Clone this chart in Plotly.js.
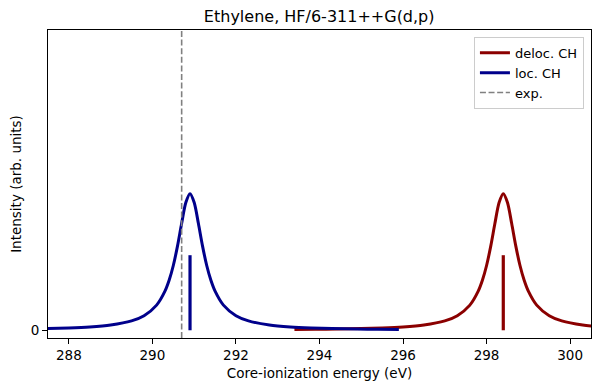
<!DOCTYPE html>
<html>
<head>
<meta charset="utf-8">
<script src="https://cdn.plot.ly/plotly-3.0.1.min.js"></script>
<style>html,body{margin:0;padding:0;background:#fff;}#chart{width:600px;height:391px;}</style>
</head>
<body>
<div id="chart"></div>
<script>
// Broadened spectrum (energy in eV, intensity in arb. units; stick height = 1)
const locX = [285.9, 287.0, 287.5, 288.0, 288.5, 289.0, 289.5, 289.8, 290.1, 290.3, 290.4, 290.5, 290.6, 290.7, 290.8, 290.9, 291.0, 291.1, 291.2, 291.3, 291.4, 291.5, 291.7, 292.0, 292.3, 292.8, 293.3, 293.8, 294.3, 294.9, 295.4, 295.9];
const locY = [0.01045, 0.01712, 0.02245, 0.0307, 0.0445, 0.0700, 0.1249, 0.194, 0.335, 0.521, 0.666, 0.863, 1.121, 1.425, 1.702, 1.82, 1.702, 1.425, 1.121, 0.863, 0.666, 0.521, 0.335, 0.194, 0.1249, 0.0700, 0.0445, 0.0307, 0.02245, 0.01628, 0.01289, 0.01045];

const delocX = [293.4, 293.9, 294.4, 295.0, 295.5, 296.0, 296.5, 297.0, 297.3, 297.6, 297.8, 297.9, 298.0, 298.1, 298.2, 298.3, 298.4, 298.5, 298.6, 298.7, 298.8, 298.9, 299.0, 299.2, 299.5, 299.8, 300.3, 300.8];
const delocY = [0.01045, 0.01289, 0.01628, 0.02245, 0.0307, 0.0445, 0.0700, 0.1249, 0.194, 0.335, 0.521, 0.666, 0.863, 1.121, 1.425, 1.702, 1.82, 1.702, 1.425, 1.121, 0.863, 0.666, 0.521, 0.335, 0.194, 0.1249, 0.0700, 0.0445];

// Stick spectra
const locStickX = [290.9];
const locStickY = [1.0];
const delocStickX = [298.4];
const delocStickY = [1.0];

// Experimental value
const expX = 290.7;

const xTicks = [288, 290, 292, 294, 296, 298, 300];
const yTicks = [0];
const yTickText = ['0'];

const xRange = [287.5, 300.5];
const yRange = [-0.103, 4.0];

const RED = '#8b0000', BLUE = '#00008b', GREY = '#808080';

function sticks(xs, ys) {
  const x = [], y = [];
  xs.forEach((v, i) => { x.push(v, v, null); y.push(0, ys[i], null); });
  return {x, y};
}
const ls = sticks(locStickX, locStickY);
const ds = sticks(delocStickX, delocStickY);

const traces = [
  {x: delocX, y: delocY, mode: 'lines', name: 'deloc. CH', line: {color: RED, width: 3, shape: 'spline', smoothing: 0.8}},
  {x: ds.x, y: ds.y, mode: 'lines', showlegend: false, line: {color: RED, width: 3.2}},
  {x: locX, y: locY, mode: 'lines', name: 'loc. CH', line: {color: BLUE, width: 3, shape: 'spline', smoothing: 0.8}},
  {x: ls.x, y: ls.y, mode: 'lines', showlegend: false, line: {color: BLUE, width: 3.2}},
  {x: [expX, expX], y: yRange, mode: 'lines', name: 'exp.', line: {color: GREY, width: 1.6, dash: '6px,2.6px'}}
];

const font = {family: 'DejaVu Sans, sans-serif', size: 13.5, color: '#000'};

const layout = {
  width: 600, height: 391,
  margin: {l: 48, r: 9, t: 30, b: 53},
  paper_bgcolor: '#fff', plot_bgcolor: '#fff',
  font: font,
  showlegend: true,
  title: {text: 'Ethylene, HF/6-311++G(d,p)', font: {family: 'DejaVu Sans, sans-serif', size: 16, color: '#000'}, x: 0.532, xanchor: 'center', y: 0.957, yanchor: 'middle'},
  xaxis: {
    range: xRange, tickvals: xTicks, ticktext: xTicks.map(String),
    showgrid: false, zeroline: false, showline: true, mirror: true, linecolor: '#000', linewidth: 1,
    ticks: 'outside', ticklen: 5, tickcolor: '#000', tickwidth: 1,
    tickfont: font,
    title: {text: 'Core-ionization energy (eV)', font: font, standoff: 6}
  },
  yaxis: {
    range: yRange, tickvals: yTicks, ticktext: yTickText,
    showgrid: false, zeroline: false, showline: true, mirror: true, linecolor: '#000', linewidth: 1,
    ticks: 'outside', ticklen: 5, tickcolor: '#000', tickwidth: 1,
    tickfont: font,
    title: {text: 'Intensity (arb. units)', font: font, standoff: 5}
  },
  legend: {
    x: 0.987, y: 0.978, xanchor: 'right', yanchor: 'top',
    bgcolor: '#fff', bordercolor: '#cccccc', borderwidth: 1,
    font: {family: 'DejaVu Sans, sans-serif', size: 13, color: '#000'}, tracegroupgap: 0, itemwidth: 30
  }
};

Plotly.newPlot('chart', traces, layout, {staticPlot: true, displayModeBar: false});
</script>
</body>
</html>
